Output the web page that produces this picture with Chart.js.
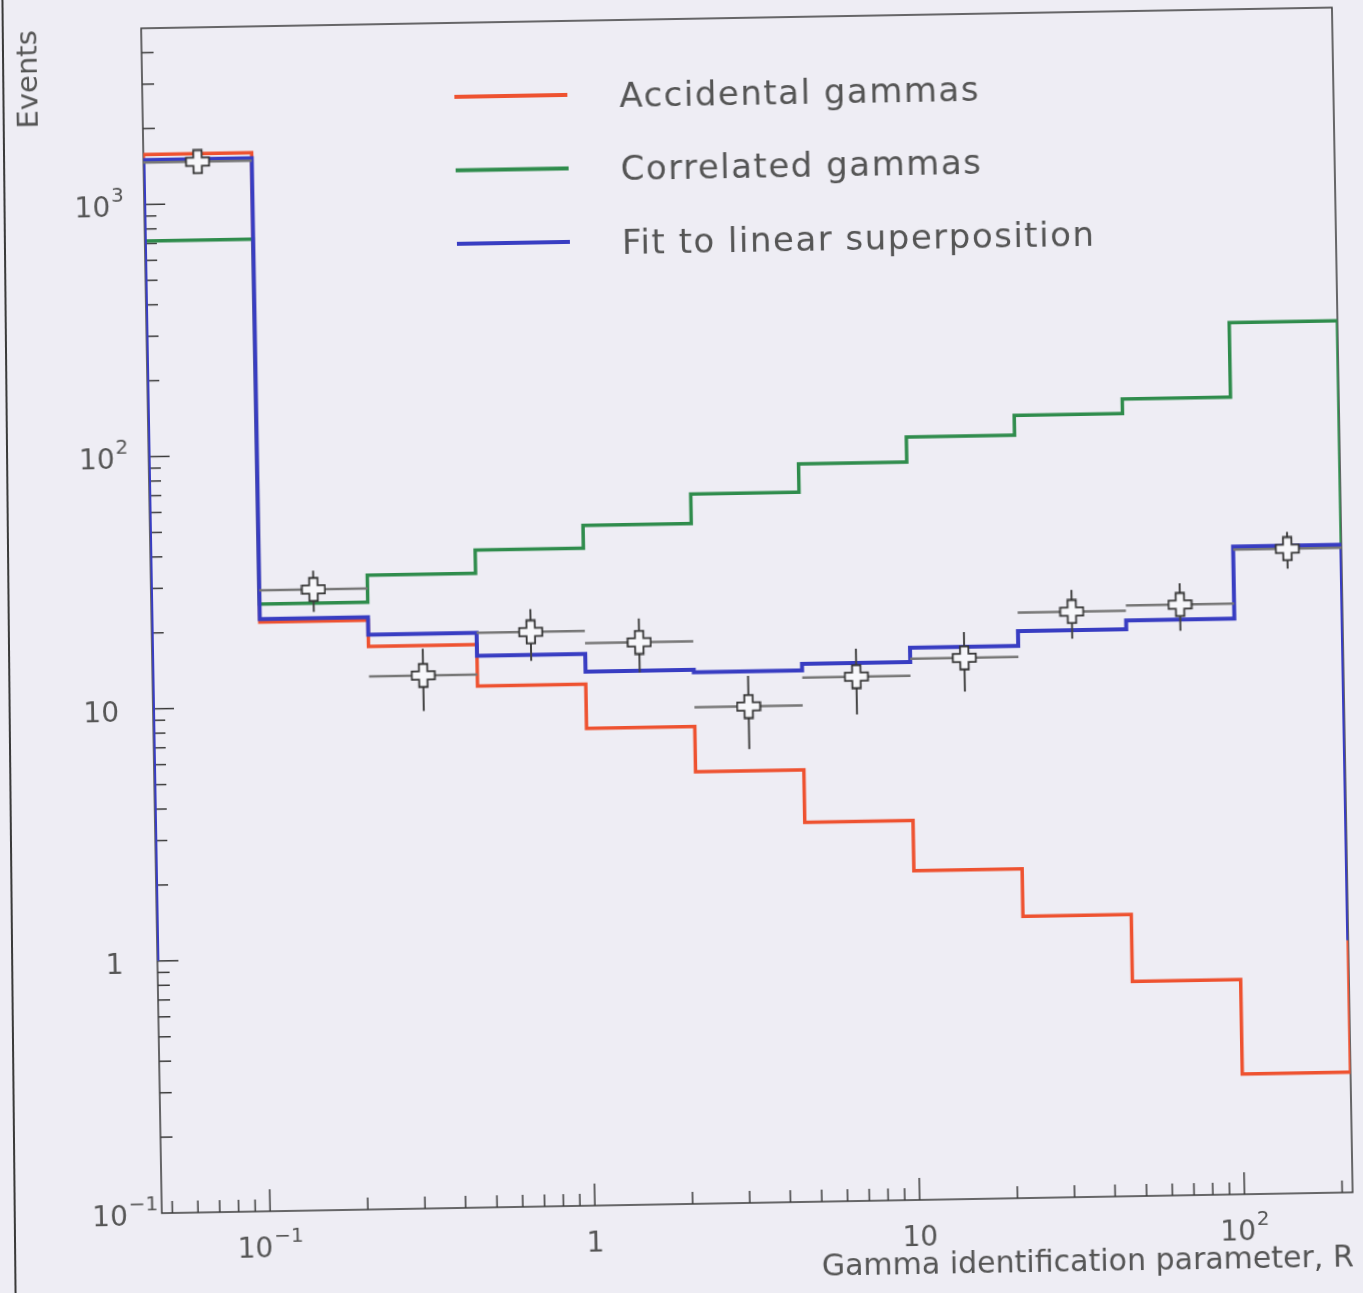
<!DOCTYPE html>
<html>
<head>
<meta charset="utf-8">
<script src="https://cdn.jsdelivr.net/npm/chart.js@4.4.0/dist/chart.umd.min.js"></script>
<style>
  html, body { margin: 0; padding: 0; background: #eeedf4; overflow: hidden; width: 1363px; height: 1293px; }
  #wrap { position: absolute; left: 0; top: 0; width: 1363px; height: 1293px; transform: rotate(-1deg); transform-origin: 681.5px 646.5px; }
  #edge { position: absolute; left: 8px; top: -20px; width: 2px; height: 1333px; background: #3a3a3a; transform: rotate(-0.58deg); }
</style>
</head>
<body>
<div id="edge"></div>
<div id="wrap"><canvas id="c" width="1363" height="1293"></canvas></div>
<script>
// ---- data ----
const binEdges    = [0.0464, 0.1, 0.2154, 0.4642, 1, 2.154, 4.642, 10, 21.54, 46.42, 100, 215.4];
const binCenters  = [0.0681, 0.1468, 0.3162, 0.6813, 1.468, 3.162, 6.813, 14.68, 31.62, 68.13, 146.8];
const accidental  = [1580, 21.7, 17.1, 11.7, 7.8, 5.16, 3.20, 2.02, 1.31, 0.71, 0.30];
const correlated  = [716, 25.6, 32.7, 40.5, 49.8, 65.3, 84.5, 106, 127, 145, 286];
const fitSum      = [1500, 22.3, 19.0, 15.4, 13.1, 12.8, 13.6, 15.5, 17.7, 19.2, 37.0];
const dataCounts  = [1466, 29, 13, 19, 17, 9.3, 12, 14, 21, 22, 36];
const dataErrors  = [38, 5.4, 3.6, 4.4, 4.1, 3.0, 3.5, 3.7, 4.6, 4.7, 6.0];
const seriesNames = ['Accidental gammas', 'Correlated gammas', 'Fit to linear superposition'];
const xTickValues = [0.1, 1, 10, 100];
const xTickLabels = [['10', '\u22121'], ['1', ''], ['10', ''], ['10', '2']];
const yTickValues = [0.1, 1, 10, 100, 1000];
const yTickLabels = [['10', '\u22121'], ['1', ''], ['10', ''], ['10', '2'], ['10', '3']];
const xTitle = 'Gamma identification parameter, R';
const yTitle = 'Events';
const xRange = [binEdges[0], binEdges[binEdges.length - 1]];
const yRange = [0.1, 5000];
const dropLevel = 1;

// ---- styles ----
const FONT = '"DejaVu Sans", "Liberation Sans", sans-serif';
const TEXT = '#555';
const colors = { red: '#ee5230', green: '#2f8c4c', blue: '#383dc2' };

function histPoints(vals) {
  const pts = [{ x: binEdges[0], y: dropLevel }];
  vals.forEach((v, i) => {
    pts.push({ x: binEdges[i], y: v });
    pts.push({ x: binEdges[i + 1], y: v });
  });
  pts.push({ x: binEdges[binEdges.length - 1], y: dropLevel });
  return pts;
}
function errorHPoints() {
  const pts = [];
  dataCounts.forEach((v, i) => {
    pts.push({ x: binEdges[i], y: v }, { x: binEdges[i + 1], y: v }, { x: binCenters[i], y: null });
  });
  return pts;
}
function errorVPoints() {
  const pts = [];
  dataCounts.forEach((v, i) => {
    pts.push({ x: binCenters[i], y: v - dataErrors[i] }, { x: binCenters[i], y: v + dataErrors[i] }, { x: binCenters[i], y: null });
  });
  return pts;
}

const markerImg = (() => {
  const c = document.createElement('canvas'); c.width = 26; c.height = 26;
  const g = c.getContext('2d');
  const m = 13, a = 4.2, L = 11.5;
  g.beginPath();
  g.moveTo(m - a, m - L); g.lineTo(m + a, m - L); g.lineTo(m + a, m - a); g.lineTo(m + L, m - a);
  g.lineTo(m + L, m + a); g.lineTo(m + a, m + a); g.lineTo(m + a, m + L); g.lineTo(m - a, m + L);
  g.lineTo(m - a, m + a); g.lineTo(m - L, m + a); g.lineTo(m - L, m - a); g.lineTo(m - a, m - a);
  g.closePath();
  g.fillStyle = '#f7f7fa'; g.fill();
  g.lineWidth = 1.8; g.strokeStyle = '#333'; g.stroke();
  return c;
})();

const axisDecor = {
  id: 'axisDecor',
  beforeDatasetsDraw(chart) {
    const { ctx, chartArea: a, scales: { x, y } } = chart;
    ctx.save();
    ctx.strokeStyle = '#3a3a3a';
    ctx.lineWidth = 1.5;
    ctx.strokeRect(a.left, a.top, a.right - a.left, a.bottom - a.top);
    for (let e = Math.floor(Math.log10(x.min)); e <= Math.ceil(Math.log10(x.max)); e++) {
      for (let k = 1; k <= 9; k++) {
        const v = k * Math.pow(10, e);
        if (v <= x.min * 1.0001 || v >= x.max * 0.9999) continue;
        const px = x.getPixelForValue(v);
        const len = k === 1 ? 22 : 12;
        ctx.beginPath(); ctx.moveTo(px, a.bottom); ctx.lineTo(px, a.bottom - len); ctx.stroke();
      }
    }
    for (let e = Math.floor(Math.log10(y.min)); e <= Math.ceil(Math.log10(y.max)); e++) {
      for (let k = 1; k <= 9; k++) {
        const v = k * Math.pow(10, e);
        if (v <= y.min * 1.0001 || v >= y.max * 0.9999) continue;
        const py = y.getPixelForValue(v);
        const len = k === 1 ? 21 : 12;
        ctx.beginPath(); ctx.moveTo(a.left, py); ctx.lineTo(a.left + len, py); ctx.stroke();
      }
    }
    ctx.restore();
  }
};

function drawPowerLabel(ctx, base, exp, anchorX, baseY, align) {
  ctx.font = '28px ' + FONT;
  const wb = ctx.measureText(base).width;
  ctx.font = '20px ' + FONT;
  const we = exp ? ctx.measureText(exp).width + 1 : 0;
  const x0 = align === 'center' ? anchorX - (wb + we) / 2 : anchorX - wb;
  ctx.textAlign = 'left';
  ctx.textBaseline = 'alphabetic';
  ctx.font = '28px ' + FONT;
  ctx.fillText(base, x0, baseY);
  if (exp) {
    ctx.font = '20px ' + FONT;
    ctx.fillText(exp, x0 + wb + 1, baseY - 15);
  }
}

const labelsAndLegend = {
  id: 'labelsAndLegend',
  afterDraw(chart) {
    const { ctx, chartArea: a, scales: { x, y } } = chart;
    ctx.save();
    ctx.fillStyle = TEXT;
    yTickValues.forEach((v, i) => {
      const py = y.getPixelForValue(v);
      drawPowerLabel(ctx, yTickLabels[i][0], yTickLabels[i][1], 118, py + 12, 'right');
    });
    xTickValues.forEach((v, i) => {
      const px = x.getPixelForValue(v);
      drawPowerLabel(ctx, xTickLabels[i][0], xTickLabels[i][1], px, a.bottom + 46, 'center');
    });
    // legend
    const rows = [93, 166.5, 240];
    chart.data.datasets.slice(0, 3).forEach((ds, i) => {
      ctx.strokeStyle = ds.borderColor;
      ctx.lineWidth = 4;
      ctx.beginPath(); ctx.moveTo(464, rows[i]); ctx.lineTo(577, rows[i]); ctx.stroke();
      ctx.fillStyle = TEXT;
      ctx.font = '34px ' + FONT;
      ctx.letterSpacing = '1.5px';
      ctx.textAlign = 'left';
      ctx.textBaseline = 'alphabetic';
      ctx.fillText(ds.label, 629, rows[i] + 12.5);
      ctx.letterSpacing = '0px';
    });
    ctx.restore();
  }
};

new Chart(document.getElementById('c'), {
  type: 'scatter',
  data: {
    datasets: [
      { label: seriesNames[0], data: histPoints(accidental), showLine: true, borderColor: colors.red, borderWidth: 3.5, pointRadius: 0, order: 4 },
      { label: seriesNames[1], data: histPoints(correlated), showLine: true, borderColor: colors.green, borderWidth: 3.5, pointRadius: 0, order: 3 },
      { label: seriesNames[2], data: histPoints(fitSum), showLine: true, borderColor: colors.blue, borderWidth: 4, pointRadius: 0, order: 2 },
      { label: 'xerr', data: errorHPoints(), showLine: true, spanGaps: false, borderColor: '#777', borderWidth: 2.5, pointRadius: 0, order: 1 },
      { label: 'yerr', data: errorVPoints(), showLine: true, spanGaps: false, borderColor: '#444', borderWidth: 2, pointRadius: 0, order: 1 },
      { label: 'Data', data: binCenters.map((c, i) => ({ x: c, y: dataCounts[i] })), showLine: false, pointStyle: markerImg, pointRadius: 11, order: 0 }
    ]
  },
  options: {
    responsive: false,
    animation: false,
    devicePixelRatio: 1,
    layout: { padding: { left: 0, top: 19, right: 20, bottom: 0 } },
    plugins: { legend: { display: false }, tooltip: { enabled: false } },
    elements: { line: { tension: 0 } },
    scales: {
      x: {
        type: 'logarithmic', position: 'bottom', min: xRange[0], max: xRange[1],
        grid: { display: false }, border: { display: false },
        ticks: { display: false },
        afterBuildTicks: s => { s.ticks = xTickValues.map(v => ({ value: v })); },
        afterFit: s => { s.height = 89; },
        title: { display: true, text: xTitle, align: 'end', color: TEXT, font: { family: FONT, size: 30 }, padding: { top: 0, bottom: 5 } }
      },
      y: {
        type: 'logarithmic', position: 'left', min: yRange[0], max: yRange[1],
        grid: { display: false }, border: { display: false },
        ticks: { display: false },
        afterBuildTicks: s => { s.ticks = yTickValues.map(v => ({ value: v })); },
        afterFit: s => { s.width = 152; },
        title: { display: true, text: yTitle, align: 'end', color: TEXT, font: { family: FONT, size: 29 }, padding: { top: 22, bottom: 0 } }
      }
    }
  },
  plugins: [axisDecor, labelsAndLegend]
});
</script>
</body>
</html>
